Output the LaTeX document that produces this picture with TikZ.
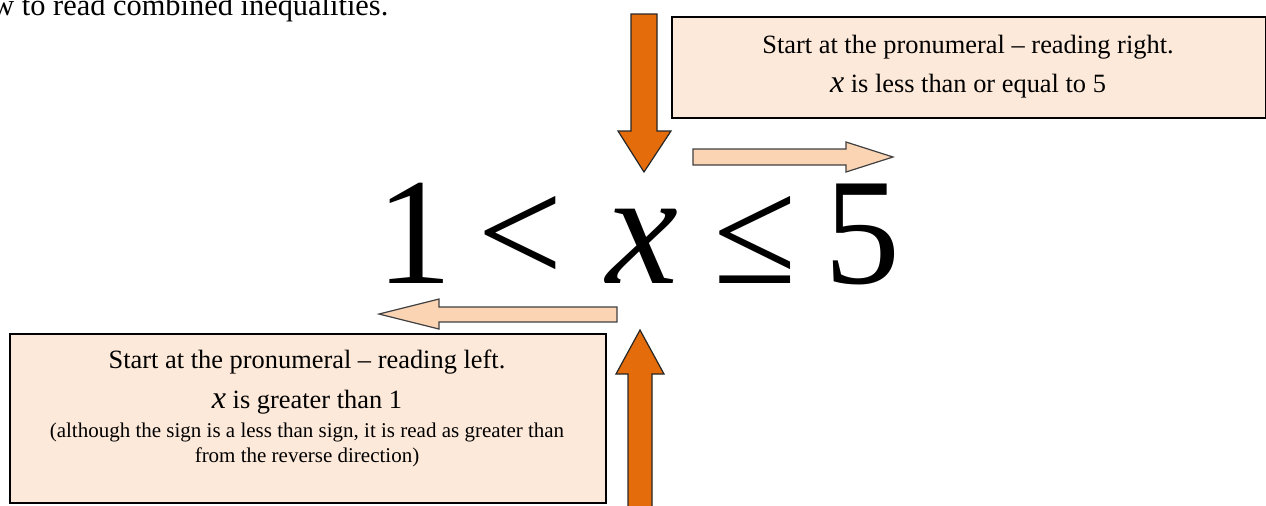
\documentclass[tikz,border=0pt]{standalone}
\usepackage{fontspec}
\setmainfont{Liberation Serif}
\usetikzlibrary{positioning}
\definecolor{deeporange}{HTML}{E46C0A}
\definecolor{peach}{HTML}{FBD4B4}
\definecolor{notefill}{HTML}{FDE9D9}
\tikzset{
  notebox/.style={rectangle,draw=black,fill=notefill,line width=1pt,inner sep=0pt},
  notetext/.style={font=\fontsize{13.2}{15}\selectfont,inner sep=0pt,anchor=base},
  smalltext/.style={font=\fontsize{10.5}{12.5}\selectfont,inner sep=0pt,anchor=base},
  glyph/.style={font=\fontsize{76}{80}\selectfont,inner sep=0pt,anchor=base},
  fatarrow/.style={draw=black!85,fill=deeporange,line width=0.6pt},
  softarrow/.style={draw=black!75,fill=peach,line width=0.6pt},
}
\newcommand{\pvar}{\textit{\fontsize{16}{16}\selectfont x}}

\begin{document}
\begin{tikzpicture}[x=0.5pt,y=-0.5pt]
  \useasboundingbox (0,0) rectangle (1266,505);
  \clip (0,0) rectangle (1266,505);
  % heading, cut off at the top
  \node[font=\fontsize{15.2}{16}\selectfont,anchor=base west,inner sep=0pt] (heading) at (-8,15) {w to read combined inequalities.};
  % the inequality, one glyph at a time
  \node[glyph] (one) at (414,283) {1};
  \node[glyph] (less) at (520,283) {<};
  \node[glyph,font=\fontsize{81}{84}\selectfont\itshape] (var) at (642,283) {x};
  \node[glyph] (leq) at (755,283) {≤};
  \node[glyph] (five) at (862,283) {5};
  % note boxes
  \node[notebox,minimum width=297pt,minimum height=50.5pt,anchor=north west] (rightbox) at (671,16) {};
  \node[notebox,minimum width=298pt,minimum height=84.5pt,anchor=north west] (leftbox) at (9,333) {};
  \node[notetext] (rline1) at (968,53) {Start at the pronumeral – reading right.};
  \node[notetext] (rline2) at (968,92) {\pvar{} is less than or equal to 5};
  \node[notetext] (lline1) at (307,368) {Start at the pronumeral – reading left.};
  \node[notetext] (lline2) at (307,408) {\pvar{} is greater than 1};
  \node[smalltext] (lline3) at (307,437) {(although the sign is a less than sign, it is read as greater than};
  \node[smalltext] (lline4) at (307,462) {from the reverse direction)};
  % block arrows
  \draw[fatarrow] (631,14) -- (657,14) -- (657,131) -- (671,131) -- (644,172)
    -- (618,131) -- (631,131) -- cycle;
  \draw[softarrow] (693,149) -- (846,149) -- (846,142) -- (893,157) -- (846,172)
    -- (846,165) -- (693,165) -- cycle;
  \draw[softarrow] (617,307) -- (439,307) -- (439,299) -- (379,314) -- (439,329)
    -- (439,322) -- (617,322) -- cycle;
  \draw[fatarrow] (628,520) -- (628,374) -- (616,374) -- (640,330) -- (664,374)
    -- (652,374) -- (652,520) -- cycle;
\end{tikzpicture}
\end{document}
